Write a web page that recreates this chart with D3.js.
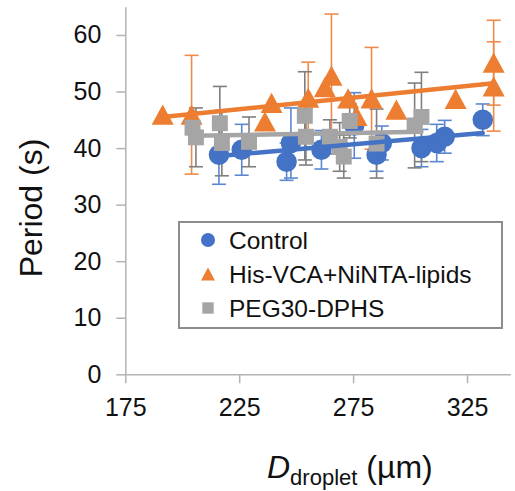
<!DOCTYPE html>
<html>
<head>
<meta charset="utf-8">
<script src="https://cdn.jsdelivr.net/npm/d3@7"></script>
<style>
  html, body { margin: 0; padding: 0; background: #fff; }
  svg { display: block; font-family: "Liberation Sans", Arial, sans-serif; }
</style>
</head>
<body>
<svg id="chart" width="515" height="491"></svg>
<script>
// ---- data ----
const seriesNames = ["Control", "His-VCA+NiNTA-lipids", "PEG30-DPHS"];

const controlD   = [216.1, 226.1, 245.8, 247.7, 261.1, 275.5, 285.3, 287.6, 305.0, 311.7, 315.2, 331.9];
const controlP   = [38.8, 39.7, 37.6, 40.9, 39.7, 44.0, 38.8, 40.9, 40.0, 40.9, 42.0, 45.0];
const controlErr = [5.2, 4.5, 3.3, 6.2, 3.4, 5.8, 2.9, 3.0, 3.3, 3.3, 2.9, 2.8];

const vcaD   = [191.4, 204.1, 236.3, 239.2, 255.3, 262.6, 265.5, 272.8, 276.5, 283.1, 294.0, 320.0, 336.7, 336.7];
const vcaP   = [45.9, 45.9, 44.7, 48.0, 48.9, 50.8, 52.8, 48.8, 45.7, 48.8, 46.8, 48.7, 55.1, 50.9];
const vcaErr = [0, 10.5, 0, 0, 6.3, 0, 10.9, 0, 0, 9.0, 0, 0, 7.5, 7.9];

const pegD   = [204.5, 206.0, 216.5, 217.4, 229.3, 253.8, 254.3, 264.8, 269.1, 270.9, 273.5, 285.3, 302.0, 305.0];
const pegP   = [43.6, 41.9, 44.4, 40.9, 41.1, 45.7, 42.0, 42.0, 40.2, 38.5, 44.8, 40.8, 44.0, 45.5];
const pegErr = [0, 5.2, 6.5, 5.8, 4.4, 7.8, 5.0, 3.0, 4.3, 3.8, 3.0, 6.1, 7.5, 7.9];

const xTicks = [175, 225, 275, 325];
const yTicks = [0, 10, 20, 30, 40, 50, 60];
const xDomain = [175, 344];
const yDomain = [0, 65];

// ---- styles ----
const colors    = ["#4472C4", "#ED7D31", "#A5A5A5"];
const errColors = ["#5B87D0", "#F08A4B", "#7F7F7F"];
const shapes    = ["circle", "triangle", "square"];

const series = [
  {D: controlD, P: controlP, E: controlErr},
  {D: vcaD, P: vcaP, E: vcaErr},
  {D: pegD, P: pegP, E: pegErr}
].map((s, i) => ({
  name: seriesNames[i], color: colors[i], errColor: errColors[i], shape: shapes[i],
  pts: s.D.map((d, j) => ({d: d, p: s.P[j], e: s.E[j]}))
}));

const svg = d3.select("#chart");
const x = d3.scaleLinear().domain(xDomain).range([125.3, 510.3]);
const y = d3.scaleLinear().domain(yDomain).range([374.3, 6.7]);

// axes
const gy = svg.append("g").attr("transform", "translate(125.3,0)")
  .call(d3.axisLeft(y).tickValues(yTicks).tickSize(9).tickSizeOuter(0).tickPadding(15));
const gx = svg.append("g").attr("transform", "translate(0,374.3)")
  .call(d3.axisBottom(x).tickValues(xTicks).tickSize(9).tickSizeOuter(0).tickPadding(15));
[gx, gy].forEach(g => {
  g.select(".domain").attr("stroke", "#b3b3b3").attr("stroke-width", 1.5);
  g.selectAll(".tick line").attr("stroke", "#b3b3b3").attr("stroke-width", 1.5);
  g.selectAll(".tick text").attr("fill", "#111").style("font-size", "25px")
   .style("font-family", "'Liberation Sans', Arial, sans-serif");
});

// symbols
function drawMarker(g, shape, cx, cy, size, color) {
  if (shape === "circle") {
    g.append("circle").attr("cx", cx).attr("cy", cy).attr("r", size / 2).attr("fill", color);
  } else if (shape === "triangle") {
    const h = size * 0.92, w = size;
    g.append("path").attr("d", `M${cx},${cy - h / 2}L${cx + w / 2},${cy + h / 2}L${cx - w / 2},${cy + h / 2}Z`)
      .attr("fill", color);
  } else {
    g.append("rect").attr("x", cx - size * 0.38).attr("y", cy - size * 0.38)
      .attr("width", size * 0.76).attr("height", size * 0.76).attr("fill", color);
  }
}

// error bars (all first)
const gErr = svg.append("g");
series.forEach(s => {
  s.pts.filter(p => p.e > 0).forEach(p => {
    const cx = x(p.d), y0 = y(p.p - p.e), y1 = y(p.p + p.e);
    const g = gErr.append("g").attr("stroke", s.errColor).attr("stroke-width", 1.6).attr("fill", "none");
    g.append("line").attr("x1", cx).attr("x2", cx).attr("y1", y0).attr("y2", y1);
    g.append("line").attr("x1", cx - 7).attr("x2", cx + 7).attr("y1", y0).attr("y2", y0);
    g.append("line").attr("x1", cx - 7).attr("x2", cx + 7).attr("y1", y1).attr("y2", y1);
  });
});

// markers
const gMk = svg.append("g");
series.forEach(s => {
  s.pts.forEach(p => drawMarker(gMk, s.shape, x(p.d), y(p.p), s.shape === "square" ? 21 : (s.shape === "triangle" ? 22 : 20.5), s.color));
});

// linear trendlines from the data
const gTr = svg.append("g");
series.forEach(s => {
  const n = s.pts.length;
  const mx = d3.mean(s.pts, p => p.d), my = d3.mean(s.pts, p => p.p);
  const b = d3.sum(s.pts, p => (p.d - mx) * (p.p - my)) / d3.sum(s.pts, p => (p.d - mx) ** 2);
  const a = my - b * mx;
  const [d0, d1] = d3.extent(s.pts, p => p.d);
  gTr.append("line")
    .attr("x1", x(d0)).attr("y1", y(a + b * d0))
    .attr("x2", x(d1)).attr("y2", y(a + b * d1))
    .attr("stroke", s.color).attr("stroke-width", 4.5).attr("stroke-linecap", "round");
});

// axis titles
svg.append("text").attr("transform", "translate(31,208) rotate(-90)")
  .attr("text-anchor", "middle").attr("dominant-baseline", "central")
  .style("font-size", "32px").attr("fill", "#111").text("Period (s)");

const xt = svg.append("text").attr("x", 267).attr("y", 478).attr("fill", "#111").style("font-size", "32px");
xt.append("tspan").style("font-style", "italic").text("D");
xt.append("tspan").style("font-size", "22px").attr("dy", 7).text("droplet");
xt.append("tspan").attr("dy", -7).text(" (\u00b5m)");

// legend
const lg = svg.append("g");
lg.append("rect").attr("x", 179).attr("y", 222).attr("width", 323).attr("height", 106)
  .attr("fill", "#fff").attr("stroke", "#8c8c8c").attr("stroke-width", 2);
const rowY = [240, 274, 308];
series.forEach((s, i) => {
  drawMarker(lg, s.shape, 208, rowY[i], s.shape === "square" ? 15 : 14, s.color);
  lg.append("text").attr("x", 229).attr("y", rowY[i]).attr("dominant-baseline", "central")
    .style("font-size", "24.5px").attr("fill", "#111").text(s.name);
});
</script>
</body>
</html>
